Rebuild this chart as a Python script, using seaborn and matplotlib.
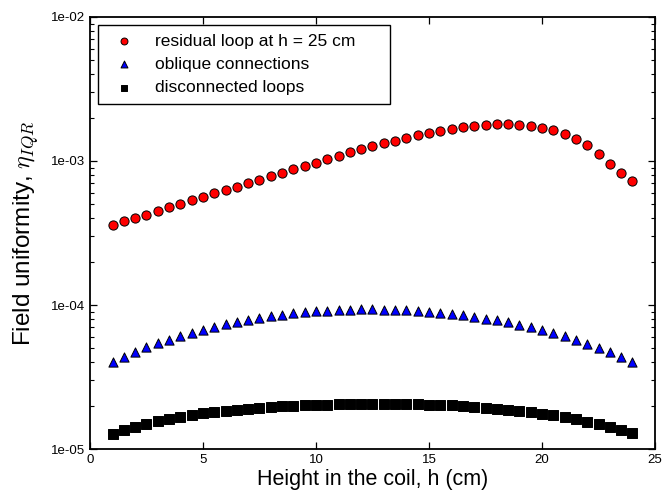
import numpy as np
import pandas as pd
import matplotlib
matplotlib.use("Agg")
import matplotlib.pyplot as plt
import matplotlib.ticker as mticker
import seaborn as sns

heights = [1 + 0.5 * i for i in range(47)]

residual = [3.59e-4, 3.83e-4, 4.04e-4, 4.24e-4, 4.52e-4, 4.77e-4, 5.05e-4, 5.33e-4,
            5.62e-4, 5.97e-4, 6.29e-4, 6.63e-4, 7.04e-4, 7.42e-4, 7.83e-4, 8.30e-4,
            8.75e-4, 9.28e-4, 9.73e-4, 1.028e-3, 1.089e-3, 1.149e-3, 1.205e-3, 1.264e-3,
            1.327e-3, 1.384e-3, 1.452e-3, 1.517e-3, 1.574e-3, 1.625e-3, 1.676e-3, 1.722e-3,
            1.750e-3, 1.778e-3, 1.799e-3, 1.799e-3, 1.778e-3, 1.750e-3, 1.703e-3, 1.633e-3,
            1.539e-3, 1.415e-3, 1.285e-3, 1.119e-3, 9.48e-4, 8.30e-4, 7.23e-4]

oblique = [4.02e-5, 4.38e-5, 4.74e-5, 5.08e-5, 5.45e-5, 5.71e-5, 6.09e-5, 6.43e-5,
           6.74e-5, 7.03e-5, 7.34e-5, 7.62e-5, 7.87e-5, 8.12e-5, 8.35e-5, 8.57e-5,
           8.76e-5, 8.89e-5, 9.04e-5, 9.13e-5, 9.23e-5, 9.27e-5, 9.33e-5, 9.33e-5,
           9.30e-5, 9.23e-5, 9.19e-5, 9.08e-5, 8.94e-5, 8.84e-5, 8.70e-5, 8.52e-5,
           8.30e-5, 8.04e-5, 7.83e-5, 7.58e-5, 7.30e-5, 7.00e-5, 6.70e-5, 6.43e-5,
           6.07e-5, 5.71e-5, 5.36e-5, 5.03e-5, 4.72e-5, 4.35e-5, 4.00e-5]

disconnected = [1.28e-5, 1.36e-5, 1.43e-5, 1.50e-5, 1.56e-5, 1.62e-5, 1.68e-5, 1.73e-5,
                1.77e-5, 1.81e-5, 1.85e-5, 1.88e-5, 1.91e-5, 1.94e-5, 1.96e-5, 1.98e-5,
                2.00e-5, 2.01e-5, 2.02e-5, 2.03e-5, 2.04e-5, 2.05e-5, 2.05e-5, 2.05e-5,
                2.05e-5, 2.05e-5, 2.05e-5, 2.05e-5, 2.03e-5, 2.02e-5, 2.01e-5, 1.99e-5,
                1.97e-5, 1.94e-5, 1.91e-5, 1.87e-5, 1.84e-5, 1.80e-5, 1.75e-5, 1.71e-5,
                1.66e-5, 1.61e-5, 1.55e-5, 1.49e-5, 1.43e-5, 1.36e-5, 1.29e-5]

labels = ["residual loop at h = 25 cm", "oblique connections", "disconnected loops"]
x_ticks = [0, 5, 10, 15, 20, 25]

sns.set_theme(style="ticks")
plt.rcParams["font.family"] = ["Liberation Sans", "DejaVu Sans"]
plt.rcParams["mathtext.fontset"] = "cm"
plt.rcParams["text.color"] = "black"
plt.rcParams["axes.labelcolor"] = "black"
plt.rcParams["xtick.color"] = "black"
plt.rcParams["ytick.color"] = "black"

fig = plt.figure(figsize=(6.65, 4.95), dpi=100)
ax = fig.add_axes([0.1353, 0.0929, 0.8497, 0.8728])

series = [
    (residual, labels[0], "o", "#ff0000"),
    (oblique, labels[1], "^", "#0000ff"),
    (disconnected, labels[2], "s", "#000000"),
]
for vals, lab, mk, col in series:
    df = pd.DataFrame({"h": heights, "eta": vals})
    sns.scatterplot(data=df, x="h", y="eta", marker=mk, color=col, s=44,
                    edgecolor="black", linewidth=0.7, label=lab, ax=ax, zorder=3)

ax.set_yscale("log")
ax.set_xlim(0, 25)
ax.set_ylim(1e-5, 1e-2)
ax.set_xticks(x_ticks)
ax.set_xticklabels([str(t) for t in x_ticks])
ax.yaxis.set_major_locator(mticker.LogLocator(base=10, numticks=10))
ax.yaxis.set_minor_locator(mticker.LogLocator(base=10, subs=np.arange(2, 10), numticks=10))
ax.yaxis.set_major_formatter(mticker.FuncFormatter(lambda v, p: f"{v:.0e}"))
ax.yaxis.set_minor_formatter(mticker.NullFormatter())

ax.tick_params(axis="both", which="both", direction="in", top=True, right=True,
               labelsize=9.5, colors="black")
ax.tick_params(axis="both", which="major", length=5, width=0.9)
ax.tick_params(axis="y", which="minor", length=3, width=0.8)
for sp in ax.spines.values():
    sp.set_linewidth(1.3)
    sp.set_color("black")

ax.set_xlabel("Height in the coil, h (cm)", fontsize=15.5, labelpad=2, color="black")
ax.set_ylabel(r"Field uniformity, $\eta_{IQR}$", fontsize=17.5, labelpad=7, color="black")

leg = ax.legend(loc="upper left", bbox_to_anchor=(0.01416, 0.0, 0.5168, 0.9815),
                mode="expand", borderaxespad=0,
                fontsize=12.5, frameon=True, fancybox=False,
                edgecolor="black", framealpha=1, markerscale=0.75,
                labelspacing=0.46, handletextpad=0.8, borderpad=0.5)
leg.get_frame().set_linewidth(1.0)
for t in leg.get_texts():
    t.set_color("black")

fig.savefig("out.png", dpi=100)
